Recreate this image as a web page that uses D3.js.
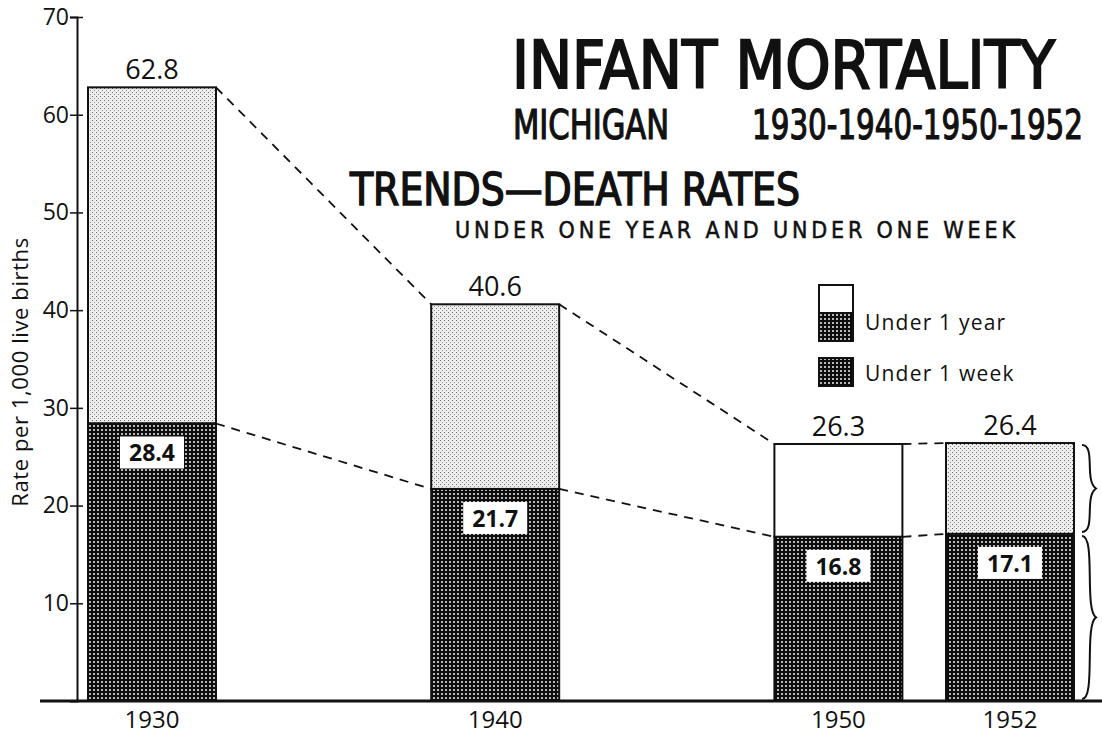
<!DOCTYPE html>
<html>
<head>
<meta charset="utf-8">
<script src="https://cdn.jsdelivr.net/npm/d3@7"></script>
<style>
  body { margin: 0; background: #fff; }
  text { font-family: "Open Sans", "DejaVu Sans", sans-serif; fill: #111; }
  .title { font-family: "DejaVu Sans Condensed", "Liberation Sans Narrow", sans-serif; font-weight: normal; stroke: #111; }
</style>
</head>
<body>
<div class="container"></div>
<script>
const years = ["1930", "1940", "1950", "1952"]
const underYear = [62.8, 40.6, 26.3, 26.4]
const underWeek = [28.4, 21.7, 16.8, 17.1]
const yTicks = [10, 20, 30, 40, 50, 60, 70]

let width = 1102
let height = 743
let barW = 128

let data = years.map(function (y, i) {
  return { year: y, total: underYear[i], week: underWeek[i] }
})

let svg = d3.select(".container")
  .append("svg")
  .attr("width", width)
  .attr("height", height)

// textures
let defs = svg.append("defs")
let stip = defs.append("pattern")
  .attr("id", "stipple")
  .attr("width", 4).attr("height", 4)
  .attr("patternUnits", "userSpaceOnUse")
stip.append("rect").attr("width", 4).attr("height", 4).attr("fill", "#eee")
stip.append("rect").attr("x", 0).attr("y", 0).attr("width", 1).attr("height", 1).attr("fill", "#666")
stip.append("rect").attr("x", 2).attr("y", 2).attr("width", 1).attr("height", 1).attr("fill", "#888")

let grid = defs.append("pattern")
  .attr("id", "grid")
  .attr("width", 4).attr("height", 4)
  .attr("patternUnits", "userSpaceOnUse")
grid.append("rect").attr("width", 4).attr("height", 4).attr("fill", "#0d0d0d")
grid.append("rect").attr("x", 1).attr("y", 1).attr("width", 2).attr("height", 2).attr("fill", "#b8b8b8")

// 1950 and 1952 sit closer together than the decades
let slot = d3.scaleOrdinal().domain(years).range([0, 1, 2, 2.5])
let x = d3.scaleLinear().domain([0, 2.5]).range([152, 1010])
let y = d3.scaleLinear().domain([0, 70]).range([701, 17])

function left(d) { return x(slot(d.year)) - barW / 2 }
function right(d) { return x(slot(d.year)) + barW / 2 }

// axis
let axis = svg.append("g")
  .attr("transform", "translate(77,0)")
  .call(d3.axisLeft(y).tickValues(yTicks).tickSizeOuter(0).tickSize(7))
axis.select(".domain").attr("stroke", "#111").attr("stroke-width", 2)
axis.selectAll(".tick line").attr("x1", 6).attr("stroke", "#111").attr("stroke-width", 1.5)
axis.selectAll(".tick text")
  .attr("x", -8)
  .attr("font-size", "23px")
  .attr("font-family", "Open Sans, DejaVu Sans, sans-serif")
  .attr("font-weight", 500)
  .attr("fill", "#111")

svg.append("text")
  .attr("transform", "translate(28,372) rotate(-90)")
  .attr("text-anchor", "middle")
  .attr("font-size", "22px")
  .attr("font-weight", 500)
  .attr("letter-spacing", "0.6")
  .text("Rate per 1,000 live births")

// connecting dashed lines
let pairs = d3.pairs(data)
svg.selectAll(".linkTop")
  .data(pairs)
  .enter()
  .append("line")
  .attr("x1", function (d) { return right(d[0]) })
  .attr("y1", function (d) { return y(d[0].total) })
  .attr("x2", function (d) { return left(d[1]) })
  .attr("y2", function (d) { return y(d[1].total) })
  .attr("stroke", "#111").attr("stroke-width", 1.8).attr("stroke-dasharray", "9,7")
svg.selectAll(".linkBottom")
  .data(pairs)
  .enter()
  .append("line")
  .attr("x1", function (d) { return right(d[0]) })
  .attr("y1", function (d) { return y(d[0].week) })
  .attr("x2", function (d) { return left(d[1]) })
  .attr("y2", function (d) { return y(d[1].week) })
  .attr("stroke", "#111").attr("stroke-width", 1.8).attr("stroke-dasharray", "9,7")

// bars
let bars = svg.selectAll(".bar")
  .data(data)
  .enter()
  .append("g")
  .attr("class", "bar")

bars.append("rect")
  .attr("x", left)
  .attr("y", function (d) { return y(d.total) })
  .attr("width", barW)
  .attr("height", function (d) { return y(d.week) - y(d.total) })
  .attr("fill", function (d) { return d.year === "1950" ? "#fff" : "url(#stipple)" })
  .attr("stroke", "#111").attr("stroke-width", 2)

bars.append("rect")
  .attr("x", left)
  .attr("y", function (d) { return y(d.week) })
  .attr("width", barW)
  .attr("height", function (d) { return y(0) - y(d.week) })
  .attr("fill", "url(#grid)")
  .attr("stroke", "#111").attr("stroke-width", 2)

bars.append("text")
  .attr("x", function (d) { return x(slot(d.year)) })
  .attr("y", function (d) { return y(d.total) - 8 })
  .attr("text-anchor", "middle")
  .attr("font-size", "27px")
  .attr("font-weight", 500)
  .text(function (d) { return d.total.toFixed(1) })

bars.append("rect")
  .attr("x", function (d) { return x(slot(d.year)) - 32 })
  .attr("y", function (d) { return y(d.week) + 13 })
  .attr("width", 64).attr("height", 32)
  .attr("fill", "#fff")

bars.append("text")
  .attr("x", function (d) { return x(slot(d.year)) })
  .attr("y", function (d) { return y(d.week) + 38 })
  .attr("text-anchor", "middle")
  .attr("font-size", "23px")
  .attr("font-weight", "bold")
  .text(function (d) { return d.week.toFixed(1) })

bars.append("text")
  .attr("x", function (d) { return x(slot(d.year)) })
  .attr("y", 728)
  .attr("text-anchor", "middle")
  .attr("font-size", "24px")
  .attr("font-weight", 500)
  .text(function (d) { return d.year })

// baseline
svg.append("line")
  .attr("x1", 40).attr("x2", width)
  .attr("y1", y(0)).attr("y2", y(0))
  .attr("stroke", "#111").attr("stroke-width", 3)

// braces on the 1952 bar
function brace(xb, y0, y1) {
  let m = (y0 + y1) / 2
  let w = 14
  return "M" + xb + "," + y0 +
    " C" + (xb + w) + "," + y0 + " " + (xb + 2) + "," + (m - 8) + " " + (xb + w) + "," + m +
    " C" + (xb + 2) + "," + (m + 8) + " " + (xb + w) + "," + y1 + " " + xb + "," + y1
}
let last = data[data.length - 1]
svg.append("path")
  .attr("d", brace(right(last) + 8, y(last.total) + 2, y(last.week) - 2))
  .attr("fill", "none").attr("stroke", "#111").attr("stroke-width", 2)
svg.append("path")
  .attr("d", brace(right(last) + 8, y(last.week) + 2, y(0) - 2))
  .attr("fill", "none").attr("stroke", "#111").attr("stroke-width", 2)

// legend
let lg = svg.append("g").attr("transform", "translate(819,285)")
lg.append("rect").attr("width", 34).attr("height", 28).attr("fill", "#fff").attr("stroke", "#111").attr("stroke-width", 2)
lg.append("rect").attr("y", 28).attr("width", 34).attr("height", 28).attr("fill", "url(#grid)").attr("stroke", "#111").attr("stroke-width", 2)
lg.append("rect").attr("y", 73).attr("width", 34).attr("height", 28).attr("fill", "url(#grid)").attr("stroke", "#111").attr("stroke-width", 2)
lg.append("text").attr("x", 46).attr("y", 45).attr("font-size", "21px").attr("font-weight", 500).attr("letter-spacing", "1.2").text("Under 1 year")
lg.append("text").attr("x", 46).attr("y", 96).attr("font-size", "21px").attr("font-weight", 500).attr("letter-spacing", "1.2").text("Under 1 week")

// titles
svg.append("text").attr("class", "title")
  .attr("x", 512).attr("y", 88)
  .attr("font-size", "66px")
  .attr("stroke-width", 2)
  .attr("textLength", 543).attr("lengthAdjust", "spacingAndGlyphs")
  .text("INFANT MORTALITY")
svg.append("text").attr("class", "title")
  .attr("x", 513).attr("y", 139)
  .attr("font-size", "40px")
  .attr("stroke-width", 1.2)
  .attr("textLength", 156).attr("lengthAdjust", "spacingAndGlyphs")
  .text("MICHIGAN")
svg.append("text").attr("class", "title")
  .attr("x", 752).attr("y", 139)
  .attr("font-size", "40px")
  .attr("stroke-width", 1.2)
  .attr("textLength", 331).attr("lengthAdjust", "spacingAndGlyphs")
  .text("1930-1940-1950-1952")
svg.append("text").attr("class", "title")
  .attr("x", 350).attr("y", 205)
  .attr("font-size", "44px")
  .attr("stroke-width", 1.4)
  .attr("textLength", 450).attr("lengthAdjust", "spacingAndGlyphs")
  .text("TRENDS\u2014DEATH RATES")
svg.append("text").attr("class", "title")
  .attr("x", 455).attr("y", 238)
  .attr("font-size", "23px")
  .attr("stroke-width", 0.5)
  .attr("textLength", 560).attr("lengthAdjust", "spacing")
  .text("UNDER ONE YEAR AND UNDER ONE WEEK")
</script>
</body>
</html>
